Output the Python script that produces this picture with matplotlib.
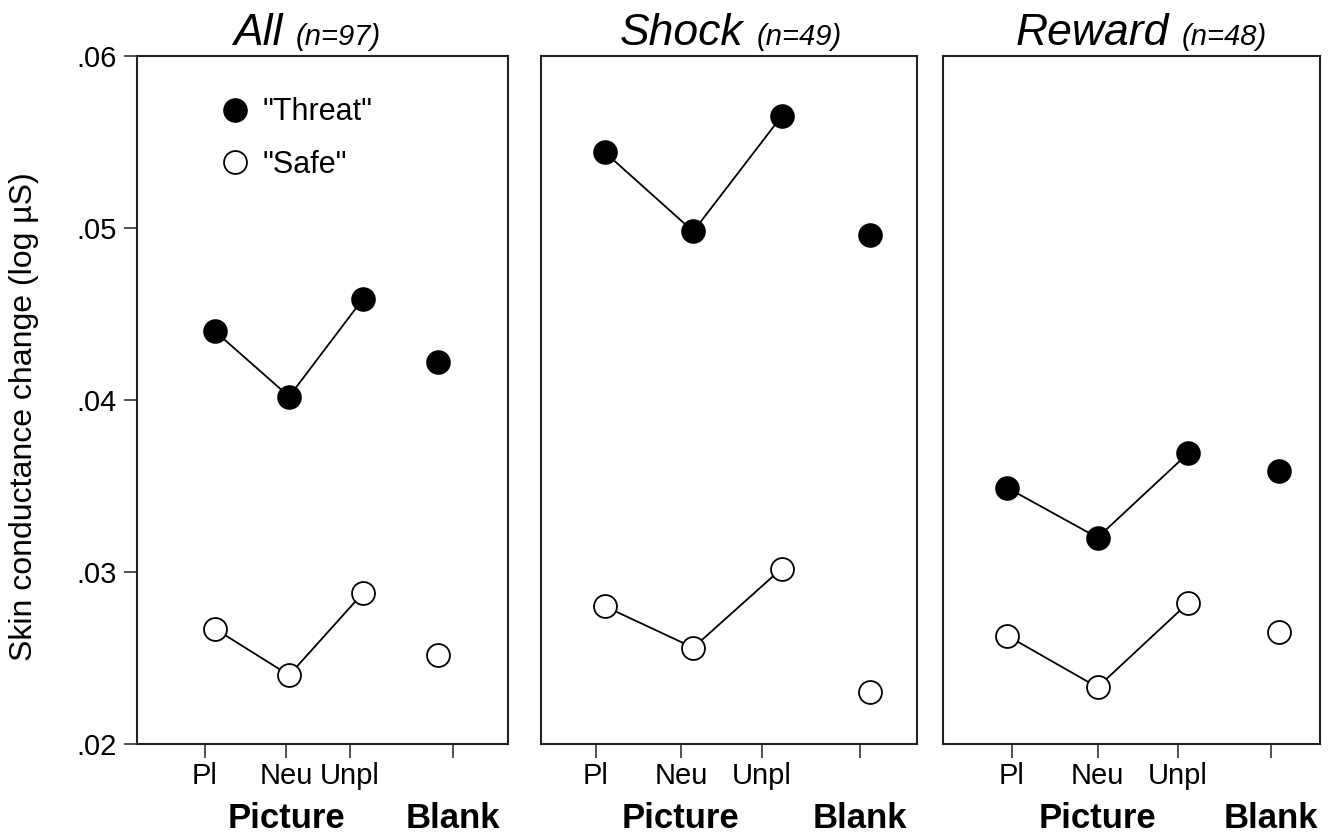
import matplotlib
matplotlib.use("Agg")
import matplotlib.pyplot as plt
from matplotlib.transforms import blended_transform_factory

plt.rcParams['font.family'] = ['Liberation Sans', 'DejaVu Sans']

# ---------------- data ----------------
groups = ["All", "Shock", "Reward"]
group_n = [97, 49, 48]
conditions = ["Pl", "Neu", "Unpl", ""]
cond_x = [1, 2, 3, 4]
y_ticks = [0.02, 0.03, 0.04, 0.05, 0.06]
y_ticklabels = [".02", ".03", ".04", ".05", ".06"]

threat_all = [0.0440, 0.0402, 0.0459, 0.0422]
safe_all = [0.0267, 0.0240, 0.0288, 0.0252]
threat_shock = [0.0544, 0.0498, 0.0565, 0.0496]
safe_shock = [0.0280, 0.0256, 0.0302, 0.0230]
threat_reward = [0.0349, 0.0320, 0.0369, 0.0359]
safe_reward = [0.0263, 0.0233, 0.0282, 0.0265]

threat_series = [threat_all, threat_shock, threat_reward]
safe_series = [safe_all, safe_shock, safe_reward]

# ---------------- layout ----------------
W, H = 1334, 834
fig = plt.figure(figsize=(W / 100, H / 100), dpi=100)
lefts = [137, 541, 943]
rights = [508, 917, 1320]
top_px, bottom_px = 56, 744
xlims = [(-0.05, 4.95), (0.277, 4.532), (0.292, 4.458)]
tick_x = [[0.865, 1.96, 2.82, 4.21],
          [0.90, 1.86, 2.78, 3.885],
          [1.05, 2.0, 2.89, 3.92]]
title_center_px = [307, 731, 1141]

spine_col = "#222222"
axes = []
for i in range(3):
    l, r = lefts[i], rights[i]
    ax = fig.add_axes([l / W, 1 - bottom_px / H, (r - l) / W, (bottom_px - top_px) / H])
    axes.append(ax)
    th = threat_series[i]
    sf = safe_series[i]
    ax.plot(cond_x[:3], th[:3], color="black", lw=1.3, zorder=1)
    ax.plot(cond_x[:3], sf[:3], color="black", lw=1.3, zorder=1)
    ax.plot(cond_x, th, ls="none", marker="o", ms=16.5, mfc="black", mec="black",
            mew=1.2, zorder=3, label='"Threat"')
    ax.plot(cond_x, sf, ls="none", marker="o", ms=16.5, mfc="white", mec="black",
            mew=1.3, zorder=3, label='"Safe"')
    ax.set_xlim(*xlims[i])
    ax.set_ylim(0.02, 0.06)
    ax.set_xticks(tick_x[i])
    ax.set_xticklabels(conditions)
    ax.tick_params(axis="x", direction="out", length=10, width=1.1, color=spine_col,
                   labelsize=21, pad=3)
    if i == 0:
        ax.set_yticks(y_ticks)
        ax.set_yticklabels(y_ticklabels)
        ax.tick_params(axis="y", direction="out", length=9.5, width=1.1, color=spine_col,
                       labelsize=21, pad=5)
    else:
        ax.set_yticks([])
    for s in ax.spines.values():
        s.set_linewidth(1.5)
        s.set_color(spine_col)

    trans = blended_transform_factory(ax.transData, fig.transFigure)
    ax.text(tick_x[i][1], 1 - 828 / H, "Picture", transform=trans, ha="center",
            va="baseline", fontsize=25, fontweight="bold")
    ax.text(tick_x[i][3], 1 - 828 / H, "Blank", transform=trans, ha="center",
            va="baseline", fontsize=25, fontweight="bold")

axes[0].legend(loc="upper left", bbox_to_anchor=(0.223, 0.940), frameon=False,
               fontsize=22, handlelength=1.0, handletextpad=0.4, borderpad=0,
               borderaxespad=0, labelspacing=0.73, markerscale=1.0)

fig.text(24 / W, 0.5, "Skin conductance change (log µS)", rotation=90,
         ha="center", va="center", fontsize=23)

# titles: large italic group name + smaller italic n
fig.canvas.draw()
renderer = fig.canvas.get_renderer()
base_y = 1 - 45 / H
gap_px = 13
for i in range(3):
    big = fig.text(0, base_y, groups[i], fontsize=32, style="italic", va="baseline")
    small = fig.text(0, base_y, "(n=%d)" % group_n[i], fontsize=21, style="italic",
                     va="baseline")
    wb = big.get_window_extent(renderer).width
    ws = small.get_window_extent(renderer).width
    total = wb + gap_px + ws
    x0 = title_center_px[i] - total / 2
    big.set_x(x0 / W)
    small.set_x((x0 + wb + gap_px) / W)

fig.savefig("out.png", dpi=100)
